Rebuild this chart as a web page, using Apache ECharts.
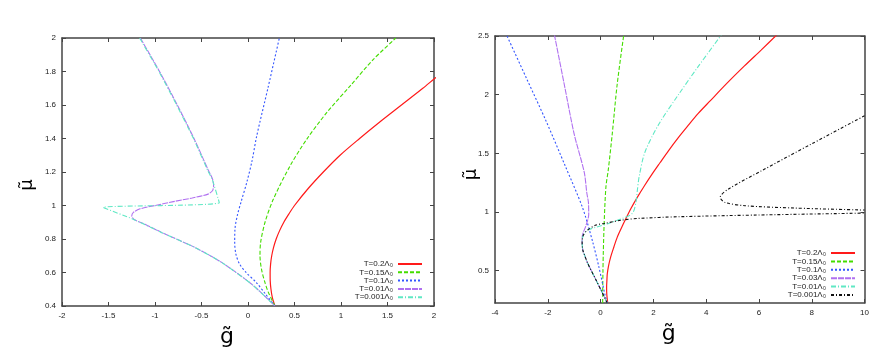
<!DOCTYPE html>
<html><head><meta charset="utf-8">
<script src="https://cdn.jsdelivr.net/npm/echarts@6/dist/echarts.min.js"></script>
<style>html,body{margin:0;padding:0;background:#fff}#c{width:872px;height:357px}</style>
</head><body><div id="c"></div>
<script>
// ---------- LEFT PANEL DATA ([g, mu]) ----------
const leftNames = ['T=0.2Λ₀','T=0.15Λ₀','T=0.1Λ₀','T=0.01Λ₀','T=0.001Λ₀'];
const leftRed = [[0.29,0.4],[0.262,0.45],[0.247,0.5],[0.239,0.55],[0.238,0.6],[0.243,0.65],[0.255,0.7],[0.275,0.75],[0.303,0.8],[0.34,0.85],[0.385,0.9],[0.44,0.95],[0.5,1.0],[0.645,1.1],[0.81,1.2],[0.99,1.3],[1.2,1.4],[1.42,1.5],[1.65,1.6],[1.88,1.7],[2.0,1.755],[2.1,1.8]];
const leftGreen = [[0.29,0.4],[0.22,0.48],[0.183,0.539],[0.145,0.62],[0.129,0.7],[0.136,0.78],[0.183,0.9],[0.272,1.037],[0.452,1.236],[0.631,1.395],[0.846,1.554],[1.097,1.713],[1.348,1.872],[1.59,2.0]];
const leftBlue = [[0.29,0.4],[0.19,0.47],[0.09,0.54],[-0.02,0.6],[-0.09,0.65],[-0.13,0.71],[-0.143,0.78],[-0.14,0.86],[-0.115,0.94],[-0.07,1.03],[-0.015,1.134],[0.043,1.266],[0.093,1.413],[0.219,1.712],[0.337,2.0]];
const leftPurple = [[-1.158,2.0],[-0.953,1.802],[-0.763,1.603],[-0.584,1.404],[-0.423,1.206],[-0.38,1.156],[-0.37,1.12],[-0.38,1.09],[-0.43,1.068],[-0.6,1.045],[-0.803,1.023],[-1.0,1.0],[-1.161,0.98],[-1.23,0.96],[-1.25,0.937],[-1.215,0.913],[-1.126,0.893],[-0.925,0.838],[-0.566,0.748],[-0.28,0.659],[0.043,0.529],[0.29,0.4]];
const leftCyan = [[-1.165,2.0],[-0.96,1.802],[-0.77,1.603],[-0.59,1.404],[-0.43,1.206],[-0.385,1.156],[-0.309,1.017],[-1.556,0.989],[-1.247,0.921],[-0.925,0.838],[-0.566,0.748],[-0.28,0.659],[0.043,0.529],[0.29,0.4]];

// ---------- RIGHT PANEL DATA ([g, mu]) ----------
const rightNames = ['T=0.2Λ₀','T=0.15Λ₀','T=0.1Λ₀','T=0.03Λ₀','T=0.01Λ₀','T=0.001Λ₀'];
const rightRed = [[0.27,0.225],[0.235,0.3],[0.228,0.36],[0.24,0.42],[0.253,0.472],[0.3,0.54],[0.378,0.614],[0.5,0.7],[0.629,0.784],[0.78,0.86],[0.95,0.94],[1.15,1.03],[1.39,1.125],[1.65,1.22],[1.95,1.323],[2.25,1.42],[2.57,1.522],[2.93,1.63],[3.29,1.73],[3.7,1.84],[4.15,1.947],[4.8,2.1],[5.45,2.245],[6.08,2.38],[6.7,2.515]];
const rightGreen = [[0.08,0.225],[0.08,0.3],[0.09,0.5],[0.102,0.648],[0.14,0.932],[0.203,1.216],[0.29,1.357],[0.441,1.664],[0.629,2.089],[0.881,2.515]];
const rightBlue = [[0.26,0.225],[0.189,0.274],[-0.061,0.529],[-0.312,0.756],[-0.688,1.04],[-1.316,1.38],[-2.069,1.777],[-2.821,2.146],[-3.574,2.515]];
const rightPurple = [[0.25,0.225],[0.05,0.32],[-0.173,0.421],[-0.487,0.563],[-0.62,0.64],[-0.675,0.677],[-0.7,0.748],[-0.69,0.8],[-0.56,0.88],[-0.45,0.98],[-0.46,1.08],[-0.52,1.16],[-0.62,1.34],[-1.0,1.664],[-1.377,2.089],[-1.754,2.515]];
const rightCyan = [[0.25,0.225],[0.05,0.32],[-0.173,0.421],[-0.487,0.563],[-0.62,0.64],[-0.675,0.677],[-0.7,0.748],[-0.651,0.804],[-0.5,0.845],[-0.173,0.87],[0.328,0.905],[0.829,0.946],[1.205,0.989],[1.331,1.074],[1.394,1.187],[1.46,1.3],[1.68,1.51],[2.21,1.75],[2.962,2.004],[3.715,2.245],[4.593,2.515]];
const rightBlackLow = [[0.25,0.225],[0.05,0.32],[-0.173,0.421],[-0.487,0.563],[-0.62,0.64],[-0.675,0.677],[-0.7,0.748],[-0.651,0.804],[-0.487,0.847],[-0.173,0.889],[0.14,0.903],[0.829,0.932],[1.457,0.946],[2.962,0.96],[6.0,0.975],[10.0,0.991]];
const rightBlackHigh = [[10.0,1.82],[7.98,1.579],[6.1,1.352],[4.844,1.196],[4.53,1.125],[4.72,1.082],[5.47,1.054],[7.355,1.034],[10.0,1.017]];

// ---------- AXIS RANGES / TICKS ----------
const leftX = {min:-2, max:2, interval:0.5};
const leftY = {min:0.4, max:2, interval:0.2};
const rightX = {min:-4, max:10, interval:2};
const rightY = {min:0.225, max:2.5};
const rightYTicks = [0.5, 1, 1.5, 2, 2.5];

const FRAME = '#444';
const FONT = 'Liberation Sans';
function axis(grid, pos, range, labels, extra) {
  const a = {
    type:'value', gridIndex:grid, position:pos, min:range.min, max:range.max,
    axisLine:{show:true, onZero:false, lineStyle:{color:FRAME, width:1.5}},
    axisTick:{show:true, inside:true, length:4, lineStyle:{color:FRAME, width:1}},
    splitLine:{show:false},
    axisLabel:{show:labels, fontSize:8, color:'#222', fontFamily:FONT, margin:6}
  };
  if (range.interval !== undefined) a.interval = range.interval;
  return Object.assign(a, extra || {});
}
function customTicks(vals) {
  return function (a) {
    a.axisTick.customValues = vals;
    a.axisLabel.customValues = vals;
    return a;
  };
}
const colors = {red:'#ff1a1a', green:'#44dd00', blue:'#3355ff', purple:'#b070f0', cyan:'#5fe8c4', black:'#111'};
function s(name, data, xi, color, type, width, smooth) {
  return {name:name, type:'line', xAxisIndex:xi, yAxisIndex:xi, data:data, symbol:'none', showSymbol:false,
    smooth:smooth, lineStyle:{color:color, width:width, type:type}, itemStyle:{color:color}, animation:false, z:3};
}
const ZW = '\u200b';
const rNames = rightNames.map(n => n + ZW);
const xName = {name:'g\u0303', nameLocation:'middle', nameGap:20, nameMoveOverlap:false,
  nameTextStyle:{fontSize:22, fontFamily:'DejaVu Sans', color:'#000'}};
const legendBase = {orient:'vertical', align:'right', padding:0, itemWidth:24, itemHeight:2, selectedMode:false,
  itemStyle:{opacity:0, borderWidth:0}, textStyle:{fontSize:8, lineHeight:8, color:'#222', fontFamily:FONT}};

const chart = echarts.init(document.getElementById('c'), null, {renderer:'canvas'});
chart.setOption({
  animation:false,
  backgroundColor:'#fff',
  grid:[{left:62, top:38, width:372, height:268}, {left:495, top:36, width:372, height:267}],
  xAxis:[
    axis(0,'bottom',leftX,true,Object.assign({}, xName, {nameTextStyle:Object.assign({}, xName.nameTextStyle, {padding:[0,42,0,0]})})),
    axis(0,'top',leftX,false),
    axis(1,'bottom',rightX,true,Object.assign({}, xName, {nameTextStyle:Object.assign({}, xName.nameTextStyle, {padding:[0,22,0,0]})})),
    axis(1,'top',rightX,false)
  ],
  yAxis:[
    axis(0,'left',leftY,true,{name:'μ\u0303', nameLocation:'middle', nameRotate:90, nameGap:26, nameMoveOverlap:false,
      nameTextStyle:{fontSize:18, fontFamily:'DejaVu Sans', color:'#000', padding:[0,26,0,0]}}),
    axis(0,'right',leftY,false),
    customTicks(rightYTicks)(axis(1,'left',rightY,true,{name:'μ\u0303', nameLocation:'middle', nameRotate:90, nameGap:15, nameMoveOverlap:false,
      nameTextStyle:{fontSize:18, fontFamily:'DejaVu Sans', color:'#000', padding:[0,10,0,0]}})),
    customTicks(rightYTicks)(axis(1,'right',rightY,false))
  ],
  legend:[
    Object.assign({}, legendBase, {right:449, top:260, itemGap:0.3, data:leftNames}),
    Object.assign({}, legendBase, {right:16, top:249, itemGap:0.4, data:rNames})
  ],
  series:[
    s(leftNames[0], leftRed, 0, colors.red, 'solid', 1.2, 0.3),
    s(leftNames[1], leftGreen, 0, colors.green, [4,2], 1.1, 0.3),
    s(leftNames[2], leftBlue, 0, colors.blue, [2,2], 1.1, 0.3),
    s(leftNames[3], leftPurple, 0, colors.purple, [6,1], 1.1, 0.25),
    s(leftNames[4], leftCyan, 0, colors.cyan, [5,2,1,2], 1.1, 0.15),
    s(rNames[0], rightRed, 2, colors.red, 'solid', 1.2, 0.3),
    s(rNames[1], rightGreen, 2, colors.green, [4,2], 1.1, 0.3),
    s(rNames[2], rightBlue, 2, colors.blue, [2,2], 1.1, 0.3),
    s(rNames[3], rightPurple, 2, colors.purple, [6,1], 1.1, 0.3),
    s(rNames[4], rightCyan, 2, colors.cyan, [5,2,1,2], 1.1, 0.3),
    s(rNames[5], rightBlackLow, 2, colors.black, [3,2,1,2], 1.1, 0.3),
    s(rNames[5], rightBlackHigh, 2, colors.black, [3,2,1,2], 1.1, 0.3)
  ]
});
</script></body></html>
